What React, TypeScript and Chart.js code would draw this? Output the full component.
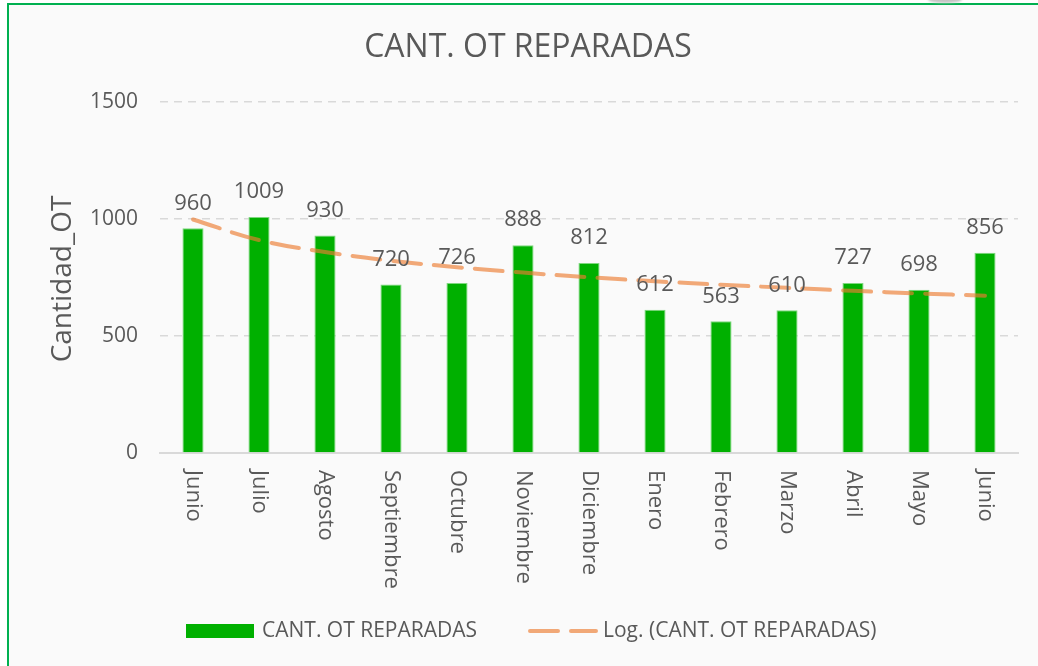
import React, { useEffect, useRef } from "react";
import { Chart, registerables } from "chart.js";

Chart.register(...registerables);

const categories = [
  "Junio", "Julio", "Agosto", "Septiembre", "Octubre", "Noviembre", "Diciembre",
  "Enero", "Febrero", "Marzo", "Abril", "Mayo", "Junio",
];
const repairedValues = [960, 1009, 930, 720, 726, 888, 812, 612, 563, 610, 727, 698, 856];
const logTrendValues = [998, 910, 859, 822, 794, 771, 751, 734, 719, 706, 693, 682, 672];
const yTickValues = [0, 500, 1000, 1500];
const chartTitle = "CANT. OT REPARADAS";
const yAxisTitle = "Cantidad_OT";
const barSeriesLabel = "CANT. OT REPARADAS";
const trendSeriesLabel = "Log. (CANT. OT REPARADAS)";

const FONT = "'Open Sans', 'Noto Sans', sans-serif";
const TEXT = "#595959";
const BAR = "#00B000";
const TREND = "rgba(237,125,49,0.65)";

const decorPlugin = {
  id: "decor",
  afterDatasetsDraw(chart: any) {
    const ctx = chart.ctx as CanvasRenderingContext2D;
    const xs = chart.scales.x;
    const ys = chart.scales.y;
    ctx.save();
    ctx.fillStyle = TEXT;

    // title
    ctx.font = `32px ${FONT}`;
    ctx.textAlign = "center";
    ctx.textBaseline = "middle";
    ctx.fillText(chartTitle, 528, 48);

    // y axis title
    ctx.save();
    ctx.translate(63, 279);
    ctx.rotate(-Math.PI / 2);
    ctx.font = `28px ${FONT}`;
    ctx.fillText(yAxisTitle, 0, 0);
    ctx.restore();

    // data labels
    ctx.font = `22px ${FONT}`;
    repairedValues.forEach((v, i) => {
      const x = xs.getPixelForValue(i);
      const y = ys.getPixelForValue(v);
      ctx.fillText(String(v), x, y - 25);
    });

    // x labels rotated clockwise
    ctx.font = `22px ${FONT}`;
    ctx.textAlign = "left";
    categories.forEach((c, i) => {
      const x = xs.getPixelForValue(i);
      ctx.save();
      ctx.translate(x, chart.chartArea.bottom + 17);
      ctx.rotate(Math.PI / 2);
      ctx.fillText(c, 0, 0);
      ctx.restore();
    });

    // legend
    const ly = 631;
    ctx.fillStyle = BAR;
    ctx.fillRect(186, 624, 68, 14);
    ctx.fillStyle = TEXT;
    ctx.font = `21px ${FONT}`;
    ctx.textAlign = "left";
    ctx.fillText(barSeriesLabel, 262, ly);

    ctx.strokeStyle = TREND;
    ctx.lineWidth = 4;
    ctx.lineCap = "round";
    ctx.setLineDash([28, 13]);
    ctx.beginPath();
    ctx.moveTo(530, ly);
    ctx.lineTo(596, ly);
    ctx.stroke();
    ctx.setLineDash([]);
    ctx.fillText(trendSeriesLabel, 603, ly);

    ctx.restore();
  },
};

export default function App() {
  const ref = useRef<HTMLCanvasElement | null>(null);

  useEffect(() => {
    if (!ref.current) return;
    const chart = new Chart(ref.current, {
      type: "bar",
      data: {
        labels: categories,
        datasets: [
          {
            type: "line",
            label: trendSeriesLabel,
            data: logTrendValues,
            borderColor: TREND,
            borderWidth: 4,
            borderDash: [28, 13],
            borderCapStyle: "round",
            pointRadius: 0,
            tension: 0.4,
            fill: false,
            order: 0,
          } as any,
          {
            type: "bar",
            label: barSeriesLabel,
            data: repairedValues,
            backgroundColor: BAR,
            borderColor: "#7fd87f",
            borderWidth: 1,
            barPercentage: 0.8,
            categoryPercentage: 0.4,
            order: 1,
          },
        ],
      },
      options: {
        responsive: false,
        animation: false,
        devicePixelRatio: 1,
        layout: { padding: { top: 102, right: 20, bottom: 213, left: 0 } },
        plugins: {
          legend: { display: false },
          title: { display: false },
          tooltip: { enabled: false },
        },
        scales: {
          x: {
            ticks: { display: false },
            grid: { display: false },
            border: { display: true, color: "#d9d9d9", width: 2 },
            afterFit: (s: any) => {
              s.height = 0;
            },
          },
          y: {
            min: 0,
            max: 1500,
            afterBuildTicks: (s: any) => {
              s.ticks = yTickValues.map((v) => ({ value: v }));
            },
            ticks: {
              color: TEXT,
              font: { size: 21, family: FONT },
              padding: 22,
              callback: (v: any) => String(v),
            },
            grid: {
              color: (c: any) => (c.tick && c.tick.value === 0 ? "rgba(0,0,0,0)" : "#d9d9d9"),
              lineWidth: 1.5,
              drawTicks: false,
            },
            border: { display: false, dash: [8, 6] },
            afterFit: (s: any) => {
              s.width = 160;
            },
          },
        },
      },
      plugins: [decorPlugin],
    });
    return () => chart.destroy();
  }, []);

  return (
    <div
      style={{
        position: "fixed",
        left: 0,
        top: 0,
        width: 1038,
        height: 666,
        background: "#ffffff",
        overflow: "hidden",
      }}
    >
      <div
        style={{
          position: "absolute",
          left: 7,
          top: 3,
          width: 1100,
          height: 720,
          border: "2px solid #00b050",
          background: "#fafafa",
        }}
      />
      <div
        style={{
          position: "absolute",
          left: 928,
          top: -4,
          width: 34,
          height: 7,
          borderRadius: "50%",
          background: "#c4c4c4",
          filter: "blur(1px)",
        }}
      />
      <canvas
        ref={ref}
        width={1038}
        height={666}
        style={{ position: "absolute", left: 0, top: 0 }}
      />
    </div>
  );
}
